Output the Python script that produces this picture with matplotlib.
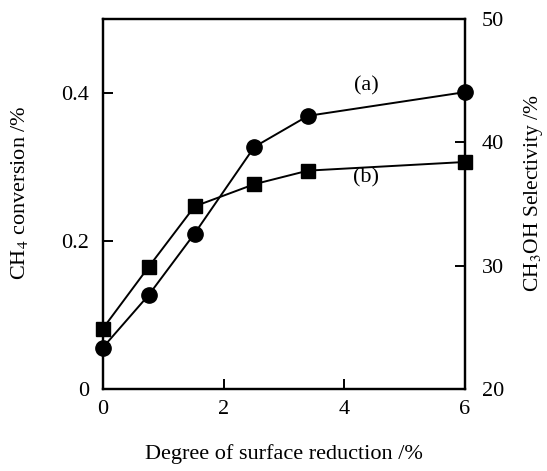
import matplotlib.pyplot as plt
from matplotlib.ticker import FixedLocator, FixedFormatter

plt.rcParams['font.family'] = ['Liberation Serif', 'DejaVu Serif']
plt.rcParams['mathtext.fontset'] = 'stix'

# degree of surface reduction /%
reduction = [0.0, 0.76, 1.52, 2.51, 3.40, 6.0]
# (a) CH4 conversion /%  (circles, left axis)
conversion = [0.056, 0.127, 0.210, 0.327, 0.369, 0.401]
# (b) CH3OH selectivity /%  (squares, right axis)
selectivity = [24.9, 29.9, 34.8, 36.6, 37.7, 38.4]

left_ticks = [0, 0.2, 0.4]
left_labels = ["0", "0.2", "0.4"]
right_ticks = [20, 30, 40, 50]
x_ticks = [0, 2, 4, 6]

fig = plt.figure(figsize=(5.47, 4.71), dpi=100)
ax = fig.add_axes([0.188, 0.174, 0.662, 0.786])
ax2 = ax.twinx()

ax.plot(reduction, conversion, color='black', lw=1.4, marker='o', ms=11,
        clip_on=False, zorder=3)
ax2.plot(reduction, selectivity, color='black', lw=1.4, marker='s', ms=9.5,
         clip_on=False, zorder=3)

ax.set_xlim(0, 6)
ax.set_ylim(0, 0.5)
ax2.set_ylim(20, 50)

ax.xaxis.set_major_locator(FixedLocator(x_ticks))
ax.yaxis.set_major_locator(FixedLocator(left_ticks))
ax.yaxis.set_major_formatter(FixedFormatter(left_labels))
ax2.yaxis.set_major_locator(FixedLocator(right_ticks))

for a in (ax, ax2):
    for s in a.spines.values():
        s.set_linewidth(1.6)
    a.tick_params(direction='in', length=7, width=1.4, labelsize=16)
ax.tick_params(axis='x', pad=8)
ax.tick_params(axis='y', pad=10)
ax2.tick_params(axis='y', pad=12)

ax.set_xlabel("Degree of surface reduction /%", fontsize=16)
ax.set_ylabel("CH$_4$ conversion /%", fontsize=16)
ax2.set_ylabel("CH$_3$OH Selectivity /%", fontsize=15.5)
ax.xaxis.set_label_coords(0.5, -0.15)
ax.yaxis.set_label_coords(-0.2, 0.53)
ax2.yaxis.set_label_coords(1.158, 0.53)

ax.text(4.36, 0.41, "(a)", fontsize=16, ha='center', va='center')
ax.text(4.36, 0.285, "(b)", fontsize=16, ha='center', va='center')

fig.savefig("out.png", dpi=100)
